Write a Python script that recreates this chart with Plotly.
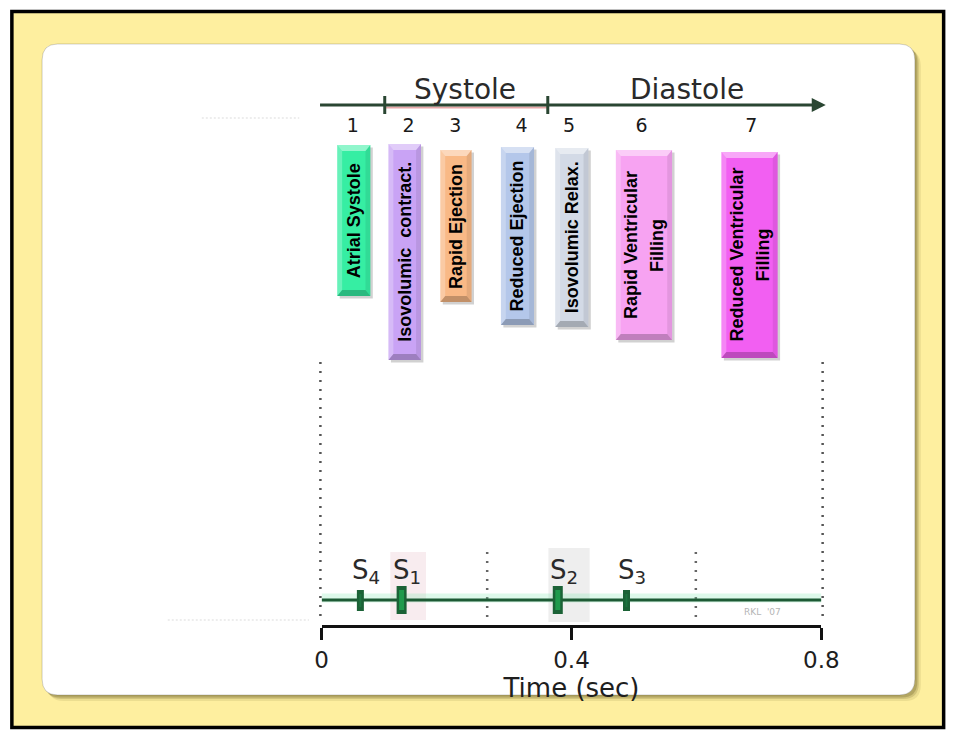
import plotly.graph_objects as go

W, H = 967, 731

# ---------------- data ----------------
PHASE_NUMBERS = ["1", "2", "3", "4", "5", "6", "7"]
PHASE_NAMES = [
    ["Atrial Systole"],
    ["Isovolumic  contract."],
    ["Rapid Ejection"],
    ["Reduced Ejection"],
    ["Isovolumic Relax."],
    ["Rapid Ventricular", "Filling"],
    ["Reduced Ventricular", "Filling"],
]
PERIOD_NAMES = ["Systole", "Diastole"]
SOUND_NAMES = ["S<sub>4</sub>", "S<sub>1</sub>", "S<sub>2</sub>", "S<sub>3</sub>"]
SOUND_TIMES = [0.062, 0.128, 0.378, 0.488]
SOUND_LOUD = [False, True, True, False]
TIME_TICKS = [0, 0.4, 0.8]
TIME_TICK_TEXT = ["0", "0.4", "0.8"]
TIME_RANGE = [0, 0.8]

# ---------------- styling / layout geometry ----------------
PHASE_COLORS = ["#36EEA3", "#C9A3F5", "#F9B986", "#B4C7EA", "#D3DAE6", "#F7A3F2", "#F25FF2"]
# horizontal extents along the time scale (s) and vertical extents (layout rows)
PHASE_SPAN = [(0.025, 0.078), (0.107, 0.159), (0.190, 0.240), (0.287, 0.340),
              (0.374, 0.427), (0.471, 0.561), (0.640, 0.730)]
PHASE_ROWS = [(145, 296), (144, 360), (150, 302), (147, 325), (148, 327), (150, 340), (152, 358)]
NUMBER_POS = [0.050, 0.139, 0.214, 0.320, 0.396, 0.512, 0.688]
SYSTOLE_BOUNDS = (0.101, 0.362)
PERIOD_LABEL_POS = [0.229, 0.585]
GRID_OUTER = [-0.002, 0.802]
GRID_INNER = [0.265, 0.599]

X0_PX, X1_PX = 323, 836                      # where 0 s and 0.8 s sit horizontally
PX_PER_S = (X1_PX - X0_PX) / (TIME_RANGE[1] - TIME_RANGE[0])
LINE_ROW = 600
AXIS_ROW = 626

GREEN_DARK = "#1d5a34"
ARROW_COL = "#2a4632"
FONT_SANS = "DejaVu Sans"
FONT_BOX = "Liberation Sans, Arial"


def fx(px):
    return px / W


def fy(py):
    return 1 - py / H


def rounded(x0, y0, x1, y1, r):
    p = lambda x, y: f"{fx(x):.5f},{fy(y):.5f}"
    return (f"M {p(x0 + r, y0)} L {p(x1 - r, y0)} Q {p(x1, y0)} {p(x1, y0 + r)} "
            f"L {p(x1, y1 - r)} Q {p(x1, y1)} {p(x1 - r, y1)} L {p(x0 + r, y1)} "
            f"Q {p(x0, y1)} {p(x0, y1 - r)} L {p(x0, y0 + r)} Q {p(x0, y0)} {p(x0 + r, y0)} Z")


shapes = []
annotations = []

# page frame and card
shapes.append(dict(type="rect", xref="paper", yref="paper", x0=fx(5), y0=fy(11.5), x1=fx(961.5), y1=fy(727.5),
                   fillcolor="#FEEF9F", line=dict(color="black", width=3.5), layer="below"))
for off, alpha in [(6, 0.12), (4, 0.2), (2.5, 0.3)]:
    shapes.append(dict(type="path", xref="paper", yref="paper", path=rounded(36 + off, 44 + off, 932 + off, 695 + off, 16),
                       fillcolor=f"rgba(110,95,40,{alpha})", line=dict(width=0), layer="below"))
shapes.append(dict(type="path", xref="paper", yref="paper", path=rounded(36, 44, 932, 695, 16),
                   fillcolor="white", line=dict(color="rgba(0,0,0,0.18)", width=1), layer="below"))

# faint residue lines on the left of the figure
for (a, b, r) in [(165, 310, 620), (200, 300, 118)]:
    shapes.append(dict(type="line", xref="paper", yref="paper", x0=fx(a), x1=fx(b), y0=fy(r), y1=fy(r),
                       line=dict(color="rgba(0,0,0,0.07)", width=2, dash="2px,2px"), layer="below"))

# dotted time gridlines
for t in GRID_OUTER:
    shapes.append(dict(type="line", xref="x", yref="y", x0=t, x1=t, y0=362, y1=622,
                       line=dict(color="#555", width=2.5, dash="2px,7px"), layer="below"))
for t in GRID_INNER:
    shapes.append(dict(type="line", xref="x", yref="y", x0=t, x1=t, y0=552, y1=622,
                       line=dict(color="#666", width=2.5, dash="2px,7px"), layer="below"))

# shaded windows behind the first and second heart sounds
shapes.append(dict(type="rect", xref="x", yref="y", x0=0.110, x1=0.167, y0=552, y1=620,
                   fillcolor="rgba(235,200,208,0.35)", line=dict(width=0), layer="below"))
shapes.append(dict(type="rect", xref="x", yref="y", x0=0.363, x1=0.429, y0=548, y1=622,
                   fillcolor="rgba(200,200,200,0.30)", line=dict(width=0), layer="below"))

# period arrow: tick marks and systole tint
shapes.append(dict(type="line", xref="x", yref="y", x0=SYSTOLE_BOUNDS[0], x1=SYSTOLE_BOUNDS[1], y0=107.5, y1=107.5,
                   line=dict(color="rgba(200,60,60,0.45)", width=2), layer="below"))
for t in SYSTOLE_BOUNDS:
    shapes.append(dict(type="line", xref="x", yref="y", x0=t, x1=t, y0=96, y1=114,
                       line=dict(color=ARROW_COL, width=3)))

# bevelled phase boxes
dx = 5 / PX_PER_S
dy = 6
for (t0, t1), (r0, r1), col in zip(PHASE_SPAN, PHASE_ROWS, PHASE_COLORS):
    sdx = 2.5 / PX_PER_S
    shapes.append(dict(type="rect", xref="x", yref="y", x0=t0 + sdx, x1=t1 + sdx, y0=r0 + 2.5, y1=r1 + 2.5,
                       fillcolor="rgba(0,0,0,0.18)", line=dict(width=0)))
    shapes.append(dict(type="rect", xref="x", yref="y", x0=t0, x1=t1, y0=r0, y1=r1,
                       fillcolor=col, line=dict(width=0)))

    def poly(pts, fill):
        path = "M " + " L ".join(f"{x:.5f},{y:.2f}" for x, y in pts) + " Z"
        shapes.append(dict(type="path", xref="x", yref="y", path=path, fillcolor=fill, line=dict(width=0)))

    poly([(t0, r0), (t0 + dx, r0 + dy), (t0 + dx, r1 - dy), (t0, r1)], "rgba(255,255,255,0.25)")
    poly([(t0, r0), (t1, r0), (t1 - dx, r0 + dy), (t0 + dx, r0 + dy)], "rgba(255,255,255,0.45)")
    poly([(t1, r0), (t1, r1), (t1 - dx, r1 - dy), (t1 - dx, r0 + dy)], "rgba(0,0,0,0.08)")
    poly([(t0, r1), (t1, r1), (t1 - dx, r1 - dy), (t0 + dx, r1 - dy)], "rgba(0,0,0,0.22)")

# box captions, rotated
for lines, (t0, t1), (r0, r1) in zip(PHASE_NAMES, PHASE_SPAN, PHASE_ROWS):
    n = len(lines)
    for i, txt in enumerate(lines):
        shift = (i - (n - 1) / 2) * 26
        annotations.append(dict(x=(t0 + t1) / 2, y=(r0 + r1) / 2, xref="x", yref="y", text=f"<b>{txt}</b>",
                                showarrow=False, textangle=-90, xshift=shift,
                                font=dict(family=FONT_BOX, size=18, color="black")))

# period arrow
annotations.append(dict(x=0.807, y=105, ax=-0.005, ay=105, xref="x", yref="y", axref="x", ayref="y",
                        text="", showarrow=True, arrowhead=2, arrowsize=1.0, arrowwidth=2.8,
                        arrowcolor=ARROW_COL, standoff=0, startstandoff=0))
for name, t in zip(PERIOD_NAMES, PERIOD_LABEL_POS):
    annotations.append(dict(x=t, y=89, xref="x", yref="y", text=name, showarrow=False,
                            font=dict(family=FONT_SANS, size=28, color="#2a2a2a")))

# heart sound labels
for name, t in zip(SOUND_NAMES, SOUND_TIMES):
    annotations.append(dict(x=t + 6 / PX_PER_S, y=571, xref="x2", yref="y", text=name, showarrow=False,
                            font=dict(family=FONT_SANS, size=26, color="#2a2a2a")))
annotations.append(dict(x=0.705, y=612, xref="x2", yref="y", text="RKL  '07", showarrow=False,
                        font=dict(family=FONT_SANS, size=9, color="#b5b5b5")))

fig = go.Figure()

# phase numbers along the period arrow
fig.add_trace(go.Scatter(x=NUMBER_POS, y=[127] * len(NUMBER_POS), mode="text", text=PHASE_NUMBERS,
                         textfont=dict(family=FONT_SANS, size=19, color="#1a1a1a"),
                         xaxis="x", yaxis="y", hoverinfo="skip", showlegend=False, cliponaxis=False))

# phonocardiogram baseline
fig.add_trace(go.Scatter(x=TIME_RANGE, y=[LINE_ROW - 2] * 2, mode="lines", xaxis="x2", yaxis="y",
                         line=dict(color="rgba(120,230,170,0.25)", width=9), hoverinfo="skip", showlegend=False))
fig.add_trace(go.Scatter(x=TIME_RANGE, y=[LINE_ROW] * 2, mode="lines", xaxis="x2", yaxis="y",
                         line=dict(color=GREEN_DARK, width=3), hoverinfo="skip", showlegend=False))

# heart sound bursts
for t, loud in zip(SOUND_TIMES, SOUND_LOUD):
    top, bot, w = (586, 614, 10) if loud else (590, 611, 7)
    fig.add_trace(go.Scatter(x=[t, t], y=[top, bot], mode="lines", xaxis="x2", yaxis="y",
                             line=dict(color="#1b6236", width=w), hoverinfo="skip", showlegend=False))
    fig.add_trace(go.Scatter(x=[t, t], y=[top + 4, bot - 4], mode="lines", xaxis="x2", yaxis="y",
                             line=dict(color="#1f9a4c" if loud else "#1d7440", width=w - 5),
                             hoverinfo="skip", showlegend=False))

fig.update_layout(
    width=W, height=H,
    autosize=False,
    margin=dict(l=0, r=0, t=0, b=0),
    paper_bgcolor="white", plot_bgcolor="rgba(0,0,0,0)",
    showlegend=False,
    xaxis=dict(domain=[0, 1], range=[-X0_PX / PX_PER_S, (W - X0_PX) / PX_PER_S],
               visible=False, fixedrange=True),
    yaxis=dict(domain=[0, 1], range=[H, 0], visible=False, fixedrange=True),
    xaxis2=dict(domain=[X0_PX / W, X1_PX / W], range=TIME_RANGE, anchor="free", position=fy(AXIS_ROW),
                showline=True, linecolor="#111", linewidth=3, showgrid=False, zeroline=False,
                ticks="outside", ticklen=12, tickwidth=3, tickcolor="#111",
                tickvals=TIME_TICKS, ticktext=TIME_TICK_TEXT,
                tickfont=dict(family=FONT_SANS, size=23, color="#1e1e1e"),
                title=dict(text="Time (sec)", font=dict(family=FONT_SANS, size=26, color="#1e1e1e"), standoff=2),
                fixedrange=True),
    shapes=shapes,
    annotations=annotations,
)

fig.write_html(
    "out.html",
    config={"responsive": False, "displayModeBar": False},
    post_script="document.body.style.margin='0';document.body.style.overflow='hidden';",
)
